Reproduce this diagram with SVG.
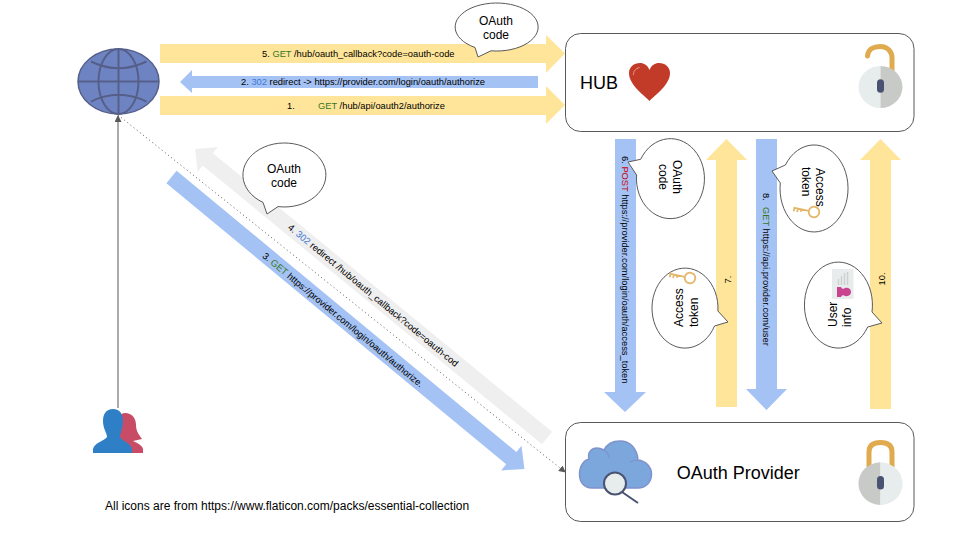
<svg xmlns="http://www.w3.org/2000/svg" width="960" height="540" viewBox="0 0 960 540">
<style>
text{font-family:"Liberation Sans",Arial,sans-serif;fill:#000}
.s{font-size:9.33px}
.m{font-size:12px}
.l{font-size:18px}
.c{text-anchor:middle}
.g{fill:#38761d}.b{fill:#3c78d8}.r{fill:#cc0000}
.y{fill:#ffe599}.u{fill:#a4c2f4}.h{fill:#efefef}
.box{fill:#fff;stroke:#595959;stroke-width:1}
.bub{fill:#fff;stroke:#595959;stroke-width:1}
.sh{fill:none;stroke:#e0aa4e;stroke-width:5;stroke-linecap:round}
</style>
<defs>
<g id="key" fill="none" stroke="#e3b66a" stroke-width="1.8">
<circle cx="0" cy="0" r="5.3"/><path d="M-5.3,0H-21M-20,0V3.5M-16.5,0V3.5M-13,0V2.5"/>
</g>
<marker id="ah" markerWidth="7" markerHeight="7" refX="6" refY="3.5" orient="auto" markerUnits="userSpaceOnUse"><path d="M0,0L7,3.5L0,7Z" fill="#595959"/></marker>
</defs>
<rect width="960" height="540" fill="#fff"/>
<g id="connectors">
<path class="y" d="M160,44H546V35L565,53.5L546,73V63H160Z"/>
<path class="u" d="M538,76H192V70L180,82L192,93V88H538Z"/>
<path class="y" d="M160,96H546V86L565,105L546,124V115H160Z"/>
<path class="u" d="M615,139H636V392H646L625,412L604,392H615Z"/>
<path class="y" d="M716,407V160H706L726.500,139L747,160H737V407Z"/>
<path class="u" d="M756,139H777V389H787L766.500,410L746,389H756Z"/>
<path class="y" d="M870,409V160H860L880.500,139L901,160H891V409Z"/>
<path class="u" transform="translate(171.500,177) rotate(39.6)" d="M0,-8H441V-16L458,0L441,16V8H0Z"/>
<path class="h" transform="translate(547,438) rotate(219.4)" d="M0,-8H439V-16L455.500,0L439,16V8H0Z"/>
<path d="M118,408V116" fill="none" stroke="#595959" stroke-width="1" marker-end="url(#ah)"/>
<path d="M118,115L565,472" fill="none" stroke="#595959" stroke-width="1" stroke-dasharray="1,3" marker-end="url(#ah)"/>
<text class="s" x="262" y="57">5. <tspan class="g">GET</tspan> /hub/oauth_callback?code=oauth-code</text>
<text class="s" x="241" y="85">2. <tspan class="b">302</tspan> redirect -&gt; https://provider.com/login/oauth/authorize</text>
<text class="s" x="287" y="108.500">1.<tspan class="g" x="318">GET</tspan> /hub/api/oauth2/authorize</text>
<text class="s" transform="translate(621.500,156) rotate(90)">6. <tspan class="r">POST</tspan> https://provider.com/login/oauth/access_token</text>
<text class="s c" transform="translate(730.500,279.500) rotate(-90)">7.</text>
<text class="s" transform="translate(763,193) rotate(90)">8.<tspan class="g" x="14">GET</tspan> https://api.provider.com/user</text>
<text class="s c" transform="translate(884.500,279) rotate(-90)">10.</text>
<text class="s c" transform="translate(342.800,320) rotate(39.6) translate(0,3)">3. <tspan class="g">GET</tspan> https://provider.com/login/oauth/authorize.</text>
<text class="s c" transform="translate(373,295.500) rotate(39.6) translate(0,3)">4. <tspan class="b">302</tspan> redirect /hub/oauth_callback?code=oauth-cod</text>
</g>
<g id="browser">
<ellipse cx="118.500" cy="81.500" rx="40.500" ry="32.500" fill="#6e84c2" stroke="#565f8a" stroke-width="1.500"/>
<g fill="none" stroke="#565f8a" stroke-width="2">
<ellipse cx="118.500" cy="81.500" rx="20" ry="32.500"/>
<path d="M118.500,49V114M78,81.500H159M91,61.500Q118.500,75 146.500,61.500M91,101.700Q118.500,88 146.500,101.700"/>
</g>
</g>
<g id="users">
<path fill="#c94c66" d="M125,413C132,413 136,418 136,425C136,432 140,436 142,439L133,441C137,443 142,445 143,449V453H118V430L115,425C117,418 120,413 125,413Z"/>
<path fill="#2f7fc6" d="M113,409C120,409 123,414 123,421C123,429 120,433 120,437C122,441 131,443 132,449V453H93V449C94,443 104,441 107,437C107,433 103,429 103,421C103,414 106,409 113,409Z"/>
</g>
<g id="hub">
<rect class="box" x="565.500" y="33.500" width="348.500" height="98" rx="15"/>
<text class="l" x="580" y="89">HUB</text>
<path fill="#c23b28" d="M649.500,101C644,95 629,85 629,73C629,67 634,63 640,63C644,63 647.500,65 649.500,70C651.500,65 655,63 659,63C665,63 670,67 670,73C670,85 655,95 649.500,101Z"/>
<path fill="none" stroke="#e39a8a" stroke-width="1" d="M633.500,75C633.500,71 635.500,68.500 639.500,67.500"/>
<path class="sh" d="M867.500,56C868,49 874,46.500 880,46.500C888,46.500 892,52 892,58V72"/>
<path fill="#e7ecec" d="M880.500,66A22,21 0 0 0 880.500,108Z"/>
<path fill="#c8cac7" d="M880.500,66A22,21 0 0 1 880.500,108Z"/>
<rect x="877" y="79.300" width="7" height="13.400" rx="3.500" fill="#4a5272"/>
</g>
<g id="provider">
<rect class="box" x="565.500" y="422.500" width="348.500" height="99" rx="15"/>
<text class="l" x="676.700" y="479">OAuth Provider</text>
<path fill="#7ba7dc" stroke="#8092cc" stroke-width="1.500" d="M592,488C583,488 579.500,481 579.500,474C579.500,466 584,460 589,459C587,452 592,448 597,448C600,448 602,449 604,450C607,444 613,441 620,441C630,441 637,448 638,460C646,461 651.500,467 651.500,474C651.500,482 646,488 638,488Z"/>
<path fill="none" stroke="#8092cc" stroke-width="1.200" d="M604,450C607,452 609,455 609,458M638,460C634,460 632,461 630,462"/>
<path d="M622,492L638,503" stroke="#4a5272" stroke-width="2" fill="none"/>
<circle cx="615" cy="483.500" r="11" fill="#e7ecec" stroke="#4a5272" stroke-width="2"/>
<path class="sh" d="M869,467V452C869,445 874,442.500 880.500,442.500C887,442.500 892,445 892,452V467" style="stroke-linecap:butt"/>
<path fill="#c8cac7" d="M880.500,462.300A22,21.300 0 0 0 880.500,505Z"/>
<path fill="#e7ecec" d="M880.500,462.300A22,21.300 0 0 1 880.500,505Z"/>
<rect x="877" y="476" width="7" height="13.400" rx="3.500" fill="#4a5272"/>
</g>
<g id="bubble-oauth-code-1">
<path class="bub" d="M475,47.500A41.500,24 0 1 1 491,50.800L478,57Z"/>
<text class="m c" x="496" y="25">OAuth</text><text class="m c" x="496" y="39.300">code</text>
</g>
<g id="bubble-oauth-code-2">
<path class="bub" d="M263,202.400A41.500,32 0 1 1 278,206.600L267,214Z"/>
<text class="m c" x="284" y="172.700">OAuth</text><text class="m c" x="284" y="186.700">code</text>
</g>
<g id="bubble-oauth-code-3">
<path class="bub" d="M640.700,159.300A34,40 0 1 1 636.600,175L628,162Z"/>
<text class="m c" transform="translate(673,177) rotate(90)">OAuth</text><text class="m c" transform="translate(659,177) rotate(90)">code</text>
</g>
<g id="bubble-access-token-1">
<path class="bub" d="M714.500,326A33,40 0 1 1 717.900,311L728,322Z"/>
<text class="m" transform="translate(683,327) rotate(-90)">Access</text><text class="m" transform="translate(697.500,327) rotate(-90)">token</text>
<use href="#key" transform="translate(690,278) rotate(12)"/>
</g>
<g id="bubble-access-token-2">
<path class="bub" d="M785.400,165A34,43.500 0 1 1 780.300,183L772,171Z"/>
<text class="m" transform="translate(816,168) rotate(90)">Access</text><text class="m" transform="translate(802,167) rotate(90)">token</text>
<use href="#key" transform="translate(814,212) rotate(12)"/>
</g>
<g id="bubble-user-info">
<path class="bub" d="M867.700,327A34,43 0 1 1 872,312L882,323Z"/>
<text class="m" transform="translate(836.500,327) rotate(-90)">User</text><text class="m" transform="translate(851,327) rotate(-90)">info</text>
<rect x="832" y="269" width="21.500" height="30" fill="#e8ecec"/>
<path d="M838.500,279V285M841.500,276V285M844.500,273V285M847.500,272V285" stroke="#cdd1d1" stroke-width="1.500" fill="none"/>
<path fill="#c9438f" d="M837,287H841C842,289 843,289 844,288.500C846,287 851,288 851,292C851,296 846,297 844,295.500C843,295 842,295 841,297H837Z"/>
</g>
<text id="credit" class="m" x="105" y="510">All icons are from https://www.flaticon.com/packs/essential-collection</text>
</svg>
